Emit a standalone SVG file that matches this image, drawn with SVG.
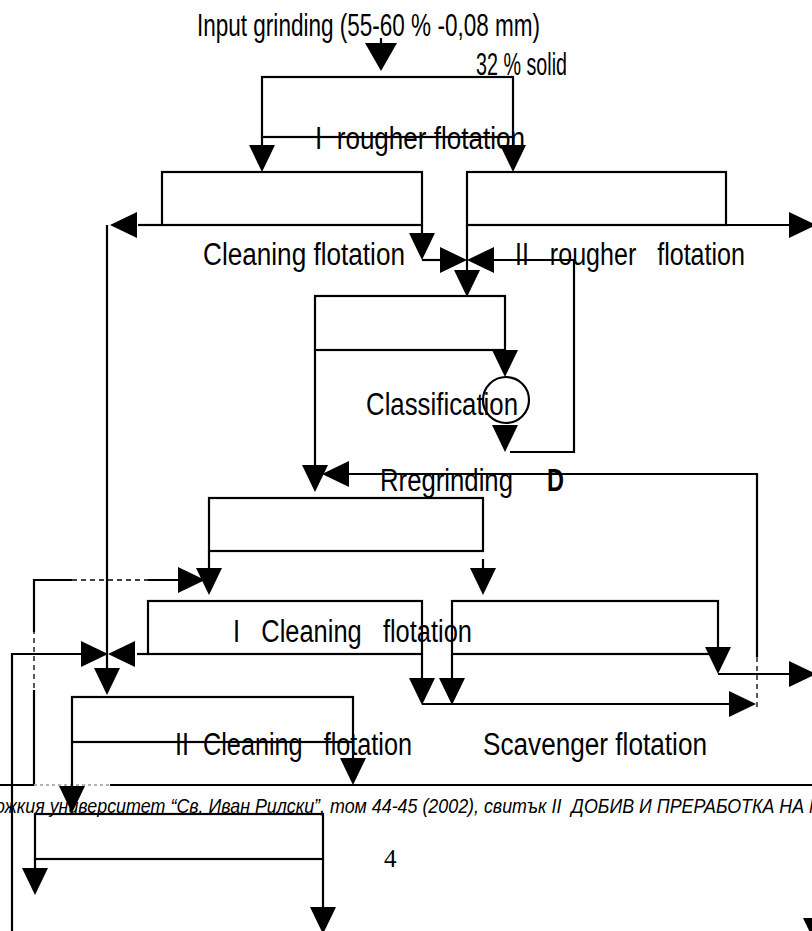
<svg xmlns="http://www.w3.org/2000/svg" width="812" height="931" viewBox="0 0 812 931">
  <style>
    .box { fill: none; stroke: #000; stroke-width: 2.2; }
    .ln { fill: none; stroke: #000; stroke-width: 2.2; }
    .dash { fill: none; stroke: #000; stroke-width: 1.3; stroke-dasharray: 5 4; }
    .dot { fill: none; stroke: #999; stroke-width: 1.3; stroke-dasharray: 3 3; }
    .ah { fill: #000; }
    .lbl { font-family: "Liberation Sans", Arial, sans-serif; font-size: 31px; fill: #000; }
    .foot { font-family: "Liberation Sans", Arial, sans-serif; font-size: 21px; font-style: italic; fill: #000; }
    .pg { font-family: "Liberation Serif", "Times New Roman", serif; font-size: 25px; fill: #000; }
  </style>
  <defs>
    <path id="ad" class="ah" d="M-13,-27H13L0,0Z"/>
    <path id="ar" class="ah" d="M-27,-13V13L0,0Z"/>
    <path id="al" class="ah" d="M27,-13V13L0,0Z"/>
  </defs>
  <rect width="812" height="931" fill="#fff"/>

  <!-- feed -->
  <g id="feed">
    <text class="lbl" x="197" y="36" textLength="343" lengthAdjust="spacingAndGlyphs">Input grinding (55-60 % -0,08 mm)</text>
    <text class="lbl" x="476" y="75" textLength="91" lengthAdjust="spacingAndGlyphs">32 % solid</text>
  </g>

  <!-- flotation and classification units -->
  <g id="rougher-1">
    <rect class="box" x="262" y="77" width="251" height="60"/>
    <text class="lbl" x="315" y="149" textLength="210" lengthAdjust="spacingAndGlyphs" xml:space="preserve">I  rougher flotation</text>
  </g>
  <g id="cleaning">
    <rect class="box" x="162" y="172" width="260" height="53"/>
    <text class="lbl" x="203" y="265" textLength="202" lengthAdjust="spacingAndGlyphs">Cleaning flotation</text>
  </g>
  <g id="rougher-2">
    <rect class="box" x="467" y="172" width="259" height="53"/>
    <text class="lbl" x="515" y="265" textLength="230" lengthAdjust="spacingAndGlyphs" xml:space="preserve">II   rougher   flotation</text>
  </g>
  <g id="regrind-mill">
    <rect class="box" x="315" y="296" width="190" height="54"/>
  </g>
  <g id="classifier">
    <circle class="box" cx="506" cy="400" r="23"/>
    <text class="lbl" x="366" y="415" textLength="152" lengthAdjust="spacingAndGlyphs">Classification</text>
  </g>
  <g id="regrinding">
    <text class="lbl" x="380" y="491" textLength="133" lengthAdjust="spacingAndGlyphs">Rregrinding</text>
    <text class="lbl" x="547" y="491" font-weight="bold" textLength="17" lengthAdjust="spacingAndGlyphs">D</text>
  </g>
  <g id="conditioner">
    <rect class="box" x="209" y="498" width="274" height="53"/>
  </g>
  <g id="cleaning-1">
    <rect class="box" x="148" y="601" width="274" height="53"/>
    <text class="lbl" x="233" y="642" textLength="239" lengthAdjust="spacingAndGlyphs" xml:space="preserve">I   Cleaning   flotation</text>
  </g>
  <g id="scavenger">
    <rect class="box" x="452" y="601" width="266" height="53"/>
    <text class="lbl" x="483" y="755" textLength="224" lengthAdjust="spacingAndGlyphs">Scavenger flotation</text>
  </g>
  <g id="cleaning-2">
    <rect class="box" x="72" y="697" width="281" height="45"/>
    <text class="lbl" x="175" y="755" textLength="237" lengthAdjust="spacingAndGlyphs" xml:space="preserve">II  Cleaning   flotation</text>
  </g>
  <g id="cleaning-3">
    <rect class="box" x="35" y="814" width="288" height="45"/>
  </g>

  <!-- flows -->
  <g id="connectors">
    <!-- feed to rougher I -->
    <line class="ln" x1="381" y1="38" x2="381" y2="46"/>
    <path class="ah" d="M365,43H397L381,71Z"/>
    <!-- rougher I outlets -->
    <path class="ln" d="M262,137V150"/>
    <use href="#ad" x="262" y="172"/>
    <path class="ln" d="M513,137V150"/>
    <use href="#ad" x="513" y="172"/>
    <!-- cleaning outlets -->
    <path class="ln" d="M162,225H138"/>
    <use href="#al" x="110" y="225"/>
    <path class="ln" d="M422,225V240"/>
    <use href="#ad" x="422" y="260"/>
    <path class="ln" d="M422,260H442"/>
    <use href="#ar" x="467" y="260"/>
    <!-- rougher II outlets -->
    <path class="ln" d="M467,225V273"/>
    <use href="#ad" x="467" y="297"/>
    <path class="ln" d="M726,225H790"/>
    <use href="#ar" x="816" y="225"/>
    <!-- classifier loop -->
    <path class="ln" d="M505,350V352"/>
    <use href="#ad" x="505" y="377"/>
    <use href="#ad" x="505" y="452"/>
    <path class="ln" d="M510,452H574V260H494"/>
    <use href="#al" x="467" y="260"/>
    <!-- regrind to conditioner -->
    <path class="ln" d="M315,350V466"/>
    <use href="#ad" x="315" y="492"/>
    <path class="ln" d="M757,657V474H343"/>
    <use href="#al" x="322" y="474"/>
    <path class="dash" d="M757,657V707"/>
    <!-- conditioner outlets -->
    <path class="ln" d="M209,551V569"/>
    <use href="#ad" x="209" y="595"/>
    <path class="ln" d="M483,559V569"/>
    <use href="#ad" x="483" y="595"/>
    <!-- return loop from cleaning III -->
    <path class="ln" d="M34,785V690"/>
    <path class="dash" d="M34,688V632"/>
    <path class="ln" d="M34,632V580H72"/>
    <path class="dash" d="M72,580H148"/>
    <path class="ln" d="M148,580H182"/>
    <use href="#ar" x="205" y="580"/>
    <path class="dot" d="M34,785H125"/>
    <!-- cleaning concentrate line -->
    <path class="ln" d="M107,225V668"/>
    <use href="#ad" x="107" y="695"/>
    <path class="ln" d="M148,654H137"/>
    <use href="#al" x="108" y="654"/>
    <path class="ln" d="M12,931V654H82"/>
    <use href="#ar" x="108" y="654"/>
    <!-- cleaning I / scavenger outlets -->
    <path class="ln" d="M422,654V678"/>
    <use href="#ad" x="422" y="705"/>
    <path class="ln" d="M452,654V678"/>
    <use href="#ad" x="452" y="705"/>
    <path class="ln" d="M422,704H729"/>
    <use href="#ar" x="756" y="704"/>
    <use href="#ad" x="718" y="674"/>
    <path class="ln" d="M718,674H790"/>
    <use href="#ar" x="816" y="674"/>
    <!-- cleaning II outlets -->
    <path class="ln" d="M72,742V786"/>
    <use href="#ad" x="72" y="813"/>
    <path class="ln" d="M353,742V759"/>
    <use href="#ad" x="353" y="785"/>
    <!-- cleaning III outlets -->
    <path class="ln" d="M35,859V868"/>
    <use href="#ad" x="35" y="895"/>
    <path class="ln" d="M323,859V908"/>
    <use href="#ad" x="323" y="934"/>
    <use href="#ad" x="816" y="945"/>
  </g>

  <!-- page furniture -->
  <path class="ln" d="M0,785H34M110,785H812"/>
  <text class="foot" x="-5" y="813" textLength="829" lengthAdjust="spacingAndGlyphs" xml:space="preserve">ожкия университет “Св. Иван Рилски”, том 44-45 (2002), свитък II  ДОБИВ И ПРЕРАБОТКА НА М</text>
  <text class="pg" x="384" y="867">4</text>
</svg>
